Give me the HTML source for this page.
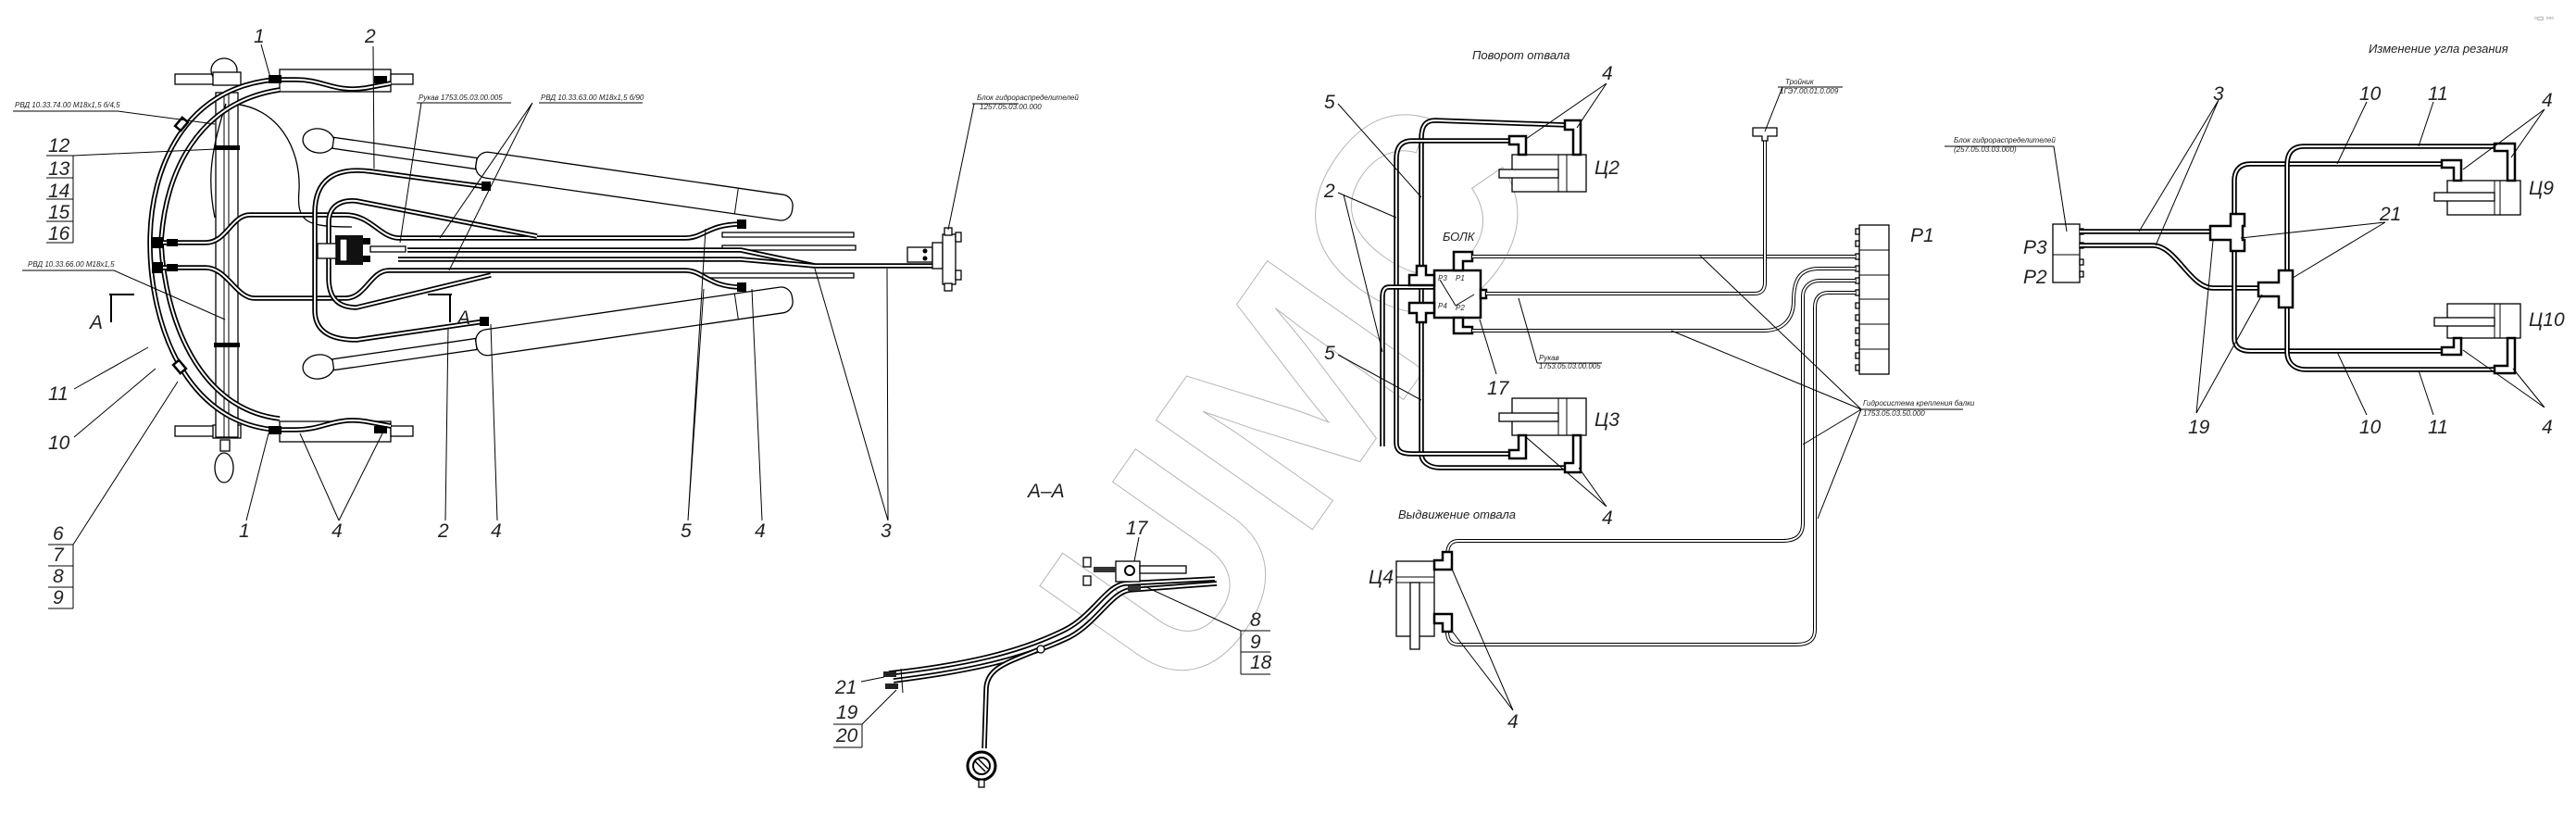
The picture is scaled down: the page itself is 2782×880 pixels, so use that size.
<!DOCTYPE html>
<html><head><meta charset="utf-8">
<style>
html,body{margin:0;padding:0;background:#fff;}
svg{display:block;}
text{font-family:"Liberation Sans","DejaVu Sans",sans-serif;font-style:italic;fill:#222;}
.n{font-size:21px;}
.s{font-size:8px;}
.t{font-size:13px;}
.ho{fill:none;stroke:#000;stroke-width:5.5;stroke-linejoin:round;stroke-linecap:butt;}
.hi{fill:none;stroke:#fff;stroke-width:2;stroke-linejoin:round;}
.tho{fill:none;stroke:#000;stroke-width:4;}
.thi{fill:none;stroke:#fff;stroke-width:2;}
.l{fill:none;stroke:#000;stroke-width:1;}
.th{fill:none;stroke:#000;stroke-width:1.3;}
.b{fill:#fff;stroke:#000;stroke-width:1.3;}
.k{fill:#fff;stroke:#000;stroke-width:2.5;}
</style></head><body>
<svg width="2782" height="880" viewBox="0 0 2782 880" xmlns="http://www.w3.org/2000/svg">
<defs>
<path id="h1" d="M296,86 C200,95 162,180 162,262 C162,350 200,455 296,464"/>
<path id="h2" d="M302,97 C215,110 178,185 174,262 C178,345 215,442 302,452"/>
<path id="h3" d="M168,262 L222,262 C245,262 250,232 270,232 L373,232 C400,232 410,256 430,257 L740,257 C760,257 765,242 800,242"/>
<path id="h4" d="M168,289 L222,289 C245,289 255,322 275,322 L373,322 C395,322 400,292 420,292 L740,292 C760,292 765,310 800,310"/>
<path id="h5" d="M527,202 L400,185 C360,180 340,195 340,230 L340,335 C340,360 360,367 385,367 L523,347"/>
<path id="h6" d="M580,255 L385,217 C365,215 355,225 355,240 L355,300 C355,322 365,332 385,332 L530,297"/>
<path id="h7" d="M440,270 L800,270 L880,287 L1007,287"/>
<path id="h8" d="M430,280 L800,280 L880,287"/>
<path id="h9" d="M1692,135 L1550,130 C1538,130 1535,138 1535,150 L1535,490 C1535,500 1545,505 1555,505 L1692,505"/>
<path id="h10" d="M1635,152 L1525,152 C1512,152 1508,160 1508,172 L1508,478 C1508,488 1515,490 1525,490 L1635,490"/>
<path id="h11" d="M1568,310 L1500,310 C1493,310 1493,318 1493,322 L1493,482"/>
<path id="h12" d="M296,86 L320,86 C350,86 360,100 395,95 L422,90"/>
<path id="h13" d="M296,464 L320,464 C350,464 360,450 395,455 L422,460"/>
<path id="r1" d="M2246,250 L2387,250"/>
<path id="r2" d="M2246,265 L2325,265 C2350,265 2365,311 2390,311 L2439,311"/>
<path id="r3" d="M2639,177 L2430,177 C2418,177 2413,185 2413,195 L2413,365 C2413,375 2420,379 2430,379 L2639,379"/>
<path id="r4" d="M2696,158 L2488,158 C2475,158 2470,166 2470,178 L2470,380 C2470,392 2478,399 2490,399 L2696,399"/>
<path id="a1" d="M960,727 C1040,718 1100,705 1150,680 C1180,665 1195,632 1215,630 L1312,625"/>
<path id="a2" d="M965,735 C1045,725 1105,712 1155,688 C1185,672 1200,640 1220,637 L1314,630"/>
</defs>

<g transform="rotate(-55 1330 470)"><text x="1060" y="600" font-size="300" style="font-style:normal;font-weight:bold;fill:none;stroke:#b5b5b5;stroke-width:1">UMC</text></g>

<!-- LEFT -->
<rect class="b" x="189" y="80" width="60" height="11"/>
<ellipse class="b" cx="242" cy="76" rx="14" ry="13"/>
<rect class="b" x="230" y="78" width="30" height="14"/>
<rect class="b" x="302" y="75" width="120" height="24"/>
<rect class="b" x="422" y="80" width="24" height="11"/>
<rect class="b" x="189" y="460" width="60" height="11"/>
<rect class="b" x="230" y="459" width="30" height="14"/>
<rect class="b" x="302" y="455" width="120" height="22"/>
<rect class="b" x="422" y="460" width="24" height="11"/>
<rect class="b" x="238" y="475" width="10" height="12"/>
<ellipse class="b" cx="242" cy="505" rx="10" ry="16"/>
<rect class="b" x="233" y="100" width="24" height="372"/>
<line class="l" x1="242" y1="100" x2="242" y2="472"/><line class="l" x1="247" y1="100" x2="247" y2="472"/>
<rect x="231" y="157" width="28" height="5" fill="#000"/>
<rect x="231" y="370" width="28" height="5" fill="#000"/>
<path class="th" d="M250,112 C300,115 325,160 323,205 C320,240 330,245 380,245" />
<path class="th" d="M244,112 C225,170 225,200 232,235"/>
<g transform="rotate(8.2 344 152)">
<ellipse class="b" cx="344" cy="152" rx="17" ry="13"/>
<rect class="b" x="360" y="146" width="156" height="12"/>
<rect class="b" x="516" y="138" width="345" height="28" rx="12"/>
<line class="l" x1="800" y1="138" x2="800" y2="166"/>
</g>
<g transform="rotate(-8.2 344 396)">
<ellipse class="b" cx="344" cy="396" rx="17" ry="13"/>
<rect class="b" x="360" y="390" width="156" height="12"/>
<rect class="b" x="516" y="382" width="345" height="28" rx="12"/>
<line class="l" x1="800" y1="382" x2="800" y2="410"/>
</g>
<rect class="b" x="780" y="251" width="142" height="5"/>
<rect class="b" x="780" y="265" width="144" height="5"/>
<rect class="b" x="760" y="295" width="162" height="5"/>
<use href="#h1" class="ho"/><use href="#h1" class="hi"/>
<use href="#h2" class="ho"/><use href="#h2" class="hi"/>
<use href="#h3" class="ho"/><use href="#h3" class="hi"/>
<use href="#h4" class="ho"/><use href="#h4" class="hi"/>
<use href="#h5" class="ho"/><use href="#h5" class="hi"/>
<use href="#h6" class="ho"/><use href="#h6" class="hi"/>
<use href="#h7" class="ho"/><use href="#h7" class="hi"/>
<use href="#h8" class="ho"/><use href="#h8" class="hi"/>
<use href="#h12" class="ho"/><use href="#h12" class="hi"/>
<use href="#h13" class="ho"/><use href="#h13" class="hi"/>
<rect x="290" y="81" width="14" height="9" fill="#000"/><rect x="404" y="82" width="14" height="8" fill="#000"/>
<rect x="290" y="460" width="14" height="9" fill="#000"/><rect x="404" y="460" width="14" height="8" fill="#000"/>
<rect x="164" y="256" width="12" height="12" fill="#000"/><rect x="164" y="283" width="12" height="12" fill="#000"/>
<rect x="180" y="258" width="12" height="8" fill="#000"/><rect x="180" y="285" width="12" height="8" fill="#000"/>
<rect x="520" y="196" width="10" height="10" fill="#000"/><rect x="518" y="342" width="10" height="10" fill="#000"/>
<rect x="796" y="237" width="10" height="10" fill="#000"/><rect x="796" y="305" width="10" height="10" fill="#000"/>
<rect class="k" x="192" y="128" width="8" height="12" transform="rotate(40 196 134)"/>
<rect class="k" x="190" y="390" width="8" height="12" transform="rotate(-40 194 396)"/>
<rect x="362" y="254" width="30" height="32" fill="#111"/>
<rect class="b" x="367" y="258" width="8" height="24"/>
<rect class="b" x="343" y="263" width="20" height="16"/>
<rect x="392" y="257" width="8" height="7" fill="#000"/><rect x="392" y="276" width="8" height="7" fill="#000"/>
<rect class="b" x="400" y="266" width="38" height="6"/>
<rect class="b" x="980" y="267" width="27" height="16"/>
<circle cx="999" cy="271" r="2.5" fill="#000"/><circle cx="999" cy="279" r="2.5" fill="#000"/>
<rect class="b" x="1007" y="262" width="11" height="28"/>
<rect class="b" x="1018" y="253" width="14" height="54"/>
<rect class="b" x="1020" y="246" width="8" height="8"/><rect class="b" x="1020" y="306" width="8" height="8"/>
<rect class="b" x="1032" y="251" width="6" height="10"/><rect class="b" x="1032" y="292" width="6" height="10"/>
<text class="n" x="52" y="164">12</text>
<text class="n" x="52" y="189">13</text>
<text class="n" x="52" y="213">14</text>
<text class="n" x="52" y="236">15</text>
<text class="n" x="52" y="259">16</text>
<path class="l" d="M50,168 H79 M50,192 H79 M50,215 H79 M50,239 H79 M50,262 H79 M79,168 V262 M79,168 L233,161"/>
<text class="s" x="16" y="116">РВД 10.33.74.00 М18х1,5 б/4,5</text>
<path class="l" d="M14,120 H127 L232,134"/>
<text class="s" x="30" y="288">РВД 10.33.66.00 М18х1,5</text>
<path class="l" d="M24,292 H123 L243,345"/>
<text class="n" x="52" y="432">11</text><path class="l" d="M80,420 L160,375"/>
<text class="n" x="52" y="485">10</text><path class="l" d="M80,472 L168,398"/>
<text class="n" x="57" y="583">6</text><text class="n" x="57" y="606">7</text><text class="n" x="57" y="629">8</text><text class="n" x="57" y="652">9</text>
<path class="l" d="M52,588 H79 M52,611 H79 M52,634 H79 M52,657 H79 M79,588 V657 M79,588 L192,412"/>
<text class="n" x="97" y="355">A</text>
<path d="M118,318 H145 M120,318 V348" stroke="#000" stroke-width="2" fill="none"/>
<text class="n" x="494" y="350">A</text>
<path d="M462,318 H488 M486,318 V348" stroke="#000" stroke-width="2" fill="none"/>
<text class="n" x="274" y="46">1</text><path class="l" d="M282,48 L292,84"/>
<text class="n" x="394" y="46">2</text><path class="l" d="M403,50 L404,182"/>
<text class="s" x="452" y="108">Рукав 1753.05.03.00.005</text>
<path class="l" d="M450,111 H552 M455,111 L432,262"/>
<text class="s" x="584" y="108">РВД 10.33.63.00 М18х1,5 б/90</text>
<path class="l" d="M582,111 H694 M575,111 L475,257 M575,111 L485,292"/>
<text class="s" x="1055" y="108">Блок гидрораспределителей</text>
<text class="s" x="1058" y="118">1257.05.03.00.000</text>
<path class="l" d="M1050,112 H1100 M1052,112 L1024,248"/>
<text class="n" x="258" y="580">1</text><path class="l" d="M266,562 L290,468"/>
<text class="n" x="358" y="580">4</text><path class="l" d="M366,562 L324,468 M366,562 L413,468"/>
<text class="n" x="473" y="580">2</text><path class="l" d="M481,562 L484,354"/>
<text class="n" x="530" y="580">4</text><path class="l" d="M537,562 L530,350"/>
<text class="n" x="735" y="580">5</text><path class="l" d="M743,562 L762,247 M743,562 L760,312"/>
<text class="n" x="815" y="580">4</text><path class="l" d="M823,562 L812,312"/>
<text class="n" x="951" y="580">3</text><path class="l" d="M959,562 L880,290 M959,562 L958,290"/>

<!-- A-A -->
<text class="n" x="1110" y="537">A–A</text>
<use href="#a1" class="ho"/><use href="#a1" class="hi"/>
<use href="#a2" class="ho"/><use href="#a2" class="hi"/>
<path class="ho" d="M1125,700 C1090,715 1065,720 1065,745 L1063,808"/><path class="hi" d="M1125,700 C1090,715 1065,720 1065,745 L1063,808"/>
<circle cx="1060" cy="827" r="15" fill="#fff" stroke="#000" stroke-width="3"/>
<circle cx="1060" cy="827" r="9" fill="#fff" stroke="#000" stroke-width="2"/>
<path d="M1053,822 L1064,833 M1056,819 L1067,830" stroke="#000" stroke-width="1.5"/>
<rect class="b" x="1057" y="842" width="6" height="8"/>
<circle class="b" cx="1124" cy="701" r="4"/>
<rect class="b" x="1205" y="606" width="26" height="22"/>
<circle cx="1220" cy="616" r="5" fill="#fff" stroke="#000" stroke-width="2"/>
<rect class="b" x="1231" y="611" width="50" height="8"/>
<rect x="1181" y="612" width="24" height="6" fill="#333"/>
<rect class="b" x="1170" y="602" width="8" height="10"/><rect class="b" x="1170" y="622" width="8" height="10"/>
<rect x="1218" y="632" width="14" height="6" fill="#333"/>
<rect x="954" y="725" width="14" height="6" fill="#222"/><rect x="956" y="738" width="14" height="6" fill="#222"/>
<path class="l" d="M973,722 L975,748"/>
<text class="n" x="1216" y="577">17</text><path class="l" d="M1230,580 L1225,606"/>
<text class="n" x="1350" y="676">8</text><text class="n" x="1350" y="700">9</text><text class="n" x="1350" y="722">18</text>
<path class="l" d="M1340,681 H1372 M1340,704 H1372 M1340,728 H1372 M1340,681 V728 M1340,681 L1236,633"/>
<text class="n" x="902" y="749">21</text><path class="l" d="M930,736 L955,731"/>
<text class="n" x="903" y="776">19</text><text class="n" x="903" y="801">20</text>
<path class="l" d="M900,782 H931 M900,807 H931 M931,782 V807 M931,782 L968,745"/>

<!-- POVOROT -->
<text class="t" x="1590" y="64">Поворот отвала</text>
<rect class="b" x="1633" y="167" width="80" height="40"/>
<line class="l" x1="1683" y1="167" x2="1683" y2="207"/><line class="l" x1="1692" y1="167" x2="1692" y2="207"/>
<rect class="b" x="1619" y="183" width="64" height="9"/>
<text class="n" x="1722" y="188">Ц2</text>
<rect class="b" x="1633" y="430" width="80" height="40"/>
<line class="l" x1="1683" y1="430" x2="1683" y2="470"/><line class="l" x1="1692" y1="430" x2="1692" y2="470"/>
<rect class="b" x="1619" y="446" width="64" height="9"/>
<text class="n" x="1722" y="460">Ц3</text>
<use href="#h9" class="ho"/><use href="#h9" class="hi"/>
<use href="#h10" class="ho"/><use href="#h10" class="hi"/>
<use href="#h11" class="ho"/><use href="#h11" class="hi"/>
<path d="M1690,130 H1707 V167 H1699 V140 H1690 Z" class="k"/>
<path d="M1630,147 H1648 V167 H1640 V156 H1630 Z" class="k"/>
<path d="M1630,495 H1648 V470 H1640 V486 H1630 Z" class="k"/>
<path d="M1690,510 H1707 V470 H1699 V500 H1690 Z" class="k"/>
<text class="t" x="1558" y="260">БОЛК</text>
<rect class="k" x="1549" y="292" width="50" height="51"/>
<path class="k" d="M1522,297 H1530 V287 H1540 V297 H1549 V308 H1522 Z"/>
<path class="k" d="M1522,327 H1549 V338 H1540 V348 H1530 V338 H1522 Z"/>
<path class="k" d="M1570,272 H1590 V282 H1580 V292 H1570 Z"/>
<path class="k" d="M1570,343 H1580 V353 H1590 V360 H1570 Z"/>
<rect class="k" x="1599" y="313" width="6" height="9"/>
<text class="s" x="1553" y="303">P3</text><text class="s" x="1572" y="303">P1</text>
<text class="s" x="1553" y="333">P4</text><text class="s" x="1572" y="335">P2</text>
<path class="l" d="M1555,302 L1572,330 L1592,318"/>
<rect class="b" x="2008" y="243" width="32" height="161"/>
<path class="l" d="M2008,270 H2040 M2008,297 H2040 M2008,323 H2040 M2008,350 H2040 M2008,377 H2040"/>
<g class="b"><rect x="2004" y="247" width="4" height="6"/><rect x="2004" y="260" width="4" height="6"/><rect x="2004" y="274" width="4" height="6"/><rect x="2004" y="287" width="4" height="6"/><rect x="2004" y="300" width="4" height="6"/><rect x="2004" y="313" width="4" height="6"/><rect x="2004" y="327" width="4" height="6"/><rect x="2004" y="340" width="4" height="6"/><rect x="2004" y="354" width="4" height="6"/><rect x="2004" y="367" width="4" height="6"/><rect x="2004" y="381" width="4" height="6"/><rect x="2004" y="394" width="4" height="6"/></g>
<text class="n" x="2063" y="261">P1</text>
<path class="tho" d="M1590,277 H2004"/><path class="thi" d="M1590,277 H2004"/>
<path class="tho" d="M1605,317 H1895 C1903,317 1906,312 1906,305 V150"/><path class="thi" d="M1605,317 H1895 C1903,317 1906,312 1906,305 V150"/>
<path class="tho" d="M1590,357 H1905 C1925,357 1937,345 1937,325 C1937,300 1945,290 1965,290 H2004"/><path class="thi" d="M1590,357 H1905 C1925,357 1937,345 1937,325 C1937,300 1945,290 1965,290 H2004"/>
<path class="tho" d="M2004,303 H1965 C1955,303 1947,310 1947,320 V565 C1947,578 1940,584 1925,584 H1575 C1566,584 1563,590 1563,600"/><path class="thi" d="M2004,303 H1965 C1955,303 1947,310 1947,320 V565 C1947,578 1940,584 1925,584 H1575 C1566,584 1563,590 1563,600"/>
<path class="tho" d="M2004,316 H1975 C1965,316 1960,322 1960,332 V680 C1960,692 1952,696 1940,696 H1575 C1566,696 1563,690 1563,682"/><path class="thi" d="M2004,316 H1975 C1965,316 1960,322 1960,332 V680 C1960,692 1952,696 1940,696 H1575 C1566,696 1563,690 1563,682"/>
<path class="b" d="M1893,138 H1919 V147 H1909 V152 H1903 V147 H1893 Z"/>
<text class="s" x="1928" y="91">Тройник</text><text class="s" x="1922" y="101">1ГЭ7.00.01.0.009</text>
<path class="l" d="M1920,94 H1990 M1925,94 L1906,142"/>
<rect class="b" x="1508" y="606" width="41" height="81"/>
<line class="l" x1="1508" y1="623" x2="1549" y2="623"/><line class="l" x1="1508" y1="629" x2="1549" y2="629"/>
<rect class="b" x="1523" y="629" width="10" height="72"/>
<path class="k" d="M1549,605 H1558 V596 H1568 V615 H1549 Z"/>
<path class="k" d="M1549,663 H1568 V682 H1558 V673 H1549 Z"/>
<text class="n" x="1478" y="630">Ц4</text>
<text class="t" x="1510" y="560">Выдвижение   отвала</text>
<text class="n" x="1730" y="86">4</text><path class="l" d="M1735,90 L1648,150 M1735,90 L1703,138"/>
<text class="n" x="1430" y="117">5</text><path class="l" d="M1445,112 L1535,213"/>
<text class="n" x="1430" y="213">2</text><path class="l" d="M1445,208 L1508,235 M1451,210 L1493,380"/>
<text class="n" x="1430" y="388">5</text><path class="l" d="M1445,383 L1535,432"/>
<text class="n" x="1606" y="426">17</text><path class="l" d="M1616,404 L1598,345"/>
<text class="s" x="1662" y="389">Рукав</text><text class="s" x="1662" y="398">1753.05.03.00.005</text>
<path class="l" d="M1660,392 H1730 M1660,392 L1640,322"/>
<text class="n" x="1730" y="566">4</text><path class="l" d="M1735,547 L1648,472 M1735,547 L1705,505"/>
<text class="n" x="1628" y="786">4</text><path class="l" d="M1634,767 L1567,612 M1634,767 L1567,680"/>
<text class="s" x="2012" y="438">Гидросистема крепления балки</text>
<text class="s" x="2012" y="449">1753.05.03.50.000</text>
<path class="l" d="M2008,442 H2120 M2010,442 L1835,275 M2010,442 L1805,357 M2010,442 L1947,480 M2010,442 L1963,560"/>

<!-- RIGHT -->
<text class="t" x="2558" y="57">Изменение угла резания</text>
<rect class="b" x="2217" y="242" width="29" height="63"/>
<line class="l" x1="2217" y1="275" x2="2246" y2="275"/>
<g class="b"><rect x="2246" y="247" width="4" height="6"/><rect x="2246" y="262" width="4" height="6"/><rect x="2246" y="280" width="4" height="6"/><rect x="2246" y="293" width="4" height="6"/></g>
<text class="n" x="2185" y="274">P3</text><text class="n" x="2185" y="306">P2</text>
<text class="s" x="2110" y="154">Блок гидрораспределителей</text><text class="s" x="2110" y="164">(257.05.03.03.000)</text>
<path class="l" d="M2100,158 H2218 M2218,158 L2232,250"/>
<use href="#r1" class="ho"/><use href="#r1" class="hi"/>
<use href="#r2" class="ho"/><use href="#r2" class="hi"/>
<use href="#r3" class="ho"/><use href="#r3" class="hi"/>
<use href="#r4" class="ho"/><use href="#r4" class="hi"/>
<path class="k" d="M2409,231 H2424 V244 H2422 V259 H2424 V271 H2409 V259 H2387 V244 H2409 Z"/>
<path class="k" d="M2461,292 H2476 V332 H2461 V320 H2439 V305 H2461 Z"/>
<rect class="b" x="2643" y="195" width="79" height="37"/>
<line class="l" x1="2694" y1="195" x2="2694" y2="232"/><line class="l" x1="2700" y1="195" x2="2700" y2="232"/>
<rect class="b" x="2629" y="208" width="65" height="9"/>
<path class="k" d="M2637,173 H2658 V195 H2650 V181 H2637 Z"/>
<path class="k" d="M2694,155 H2716 V195 H2708 V163 H2694 Z"/>
<text class="n" x="2731" y="210">Ц9</text>
<rect class="b" x="2643" y="328" width="79" height="37"/>
<line class="l" x1="2694" y1="328" x2="2694" y2="365"/><line class="l" x1="2700" y1="328" x2="2700" y2="365"/>
<rect class="b" x="2629" y="343" width="65" height="9"/>
<path class="k" d="M2637,383 H2658 V365 H2650 V375 H2637 Z"/>
<path class="k" d="M2694,403 H2716 V365 H2708 V395 H2694 Z"/>
<text class="n" x="2731" y="352">Ц10</text>
<text class="n" x="2390" y="108">3</text><path class="l" d="M2396,108 L2310,250 M2396,108 L2328,265"/>
<text class="n" x="2548" y="108">10</text><path class="l" d="M2556,110 L2524,177"/>
<text class="n" x="2622" y="108">11</text><path class="l" d="M2628,110 L2612,158"/>
<text class="n" x="2745" y="115">4</text><path class="l" d="M2748,118 L2660,183 M2748,118 L2712,170"/>
<text class="n" x="2570" y="238">21</text><path class="l" d="M2576,240 L2420,257 M2576,240 L2476,300"/>
<text class="n" x="2363" y="468">19</text><path class="l" d="M2372,446 L2390,260 M2372,446 L2443,318"/>
<text class="n" x="2548" y="468">10</text><path class="l" d="M2556,448 L2524,380"/>
<text class="n" x="2622" y="468">11</text><path class="l" d="M2628,448 L2612,400"/>
<text class="n" x="2745" y="468">4</text><path class="l" d="M2748,440 L2660,378 M2748,440 L2714,398"/>
<text x="2737" y="22" style="font-size:8px;font-style:normal;fill:#666">▫▭ ▫▫▫</text>
</svg>
</body></html>
